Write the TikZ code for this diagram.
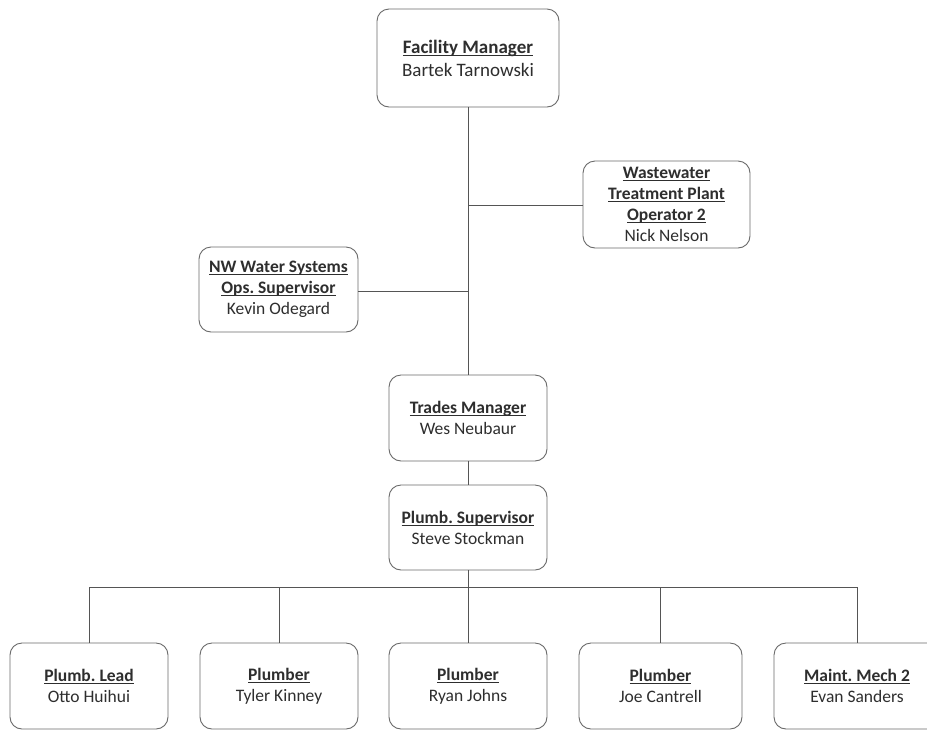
\documentclass[tikz,border=0pt]{standalone}
\usepackage{fontspec}
\setmainfont{Carlito}
\definecolor{txt}{HTML}{2E2E2E}
\definecolor{ln}{HTML}{555555}
\definecolor{bd}{HTML}{6A6A6A}
\newlength\ulwidth
\newcommand{\ttl}[1]{\settowidth\ulwidth{\textbf{#1}}\textbf{#1}\llap{\rule[-2.4pt]{\ulwidth}{0.8pt}}}
\begin{document}
\frenchspacing
\begin{tikzpicture}[x=1pt,y=-1pt,
  box/.style={draw=bd,line width=0.9pt,rounded corners=12pt,fill=white,text=txt,
    align=center,inner sep=0pt,font=\fontsize{17.5}{21}\selectfont},
  conn/.style={draw=ln,line width=0.9pt}]
\useasboundingbox[fill=white] (0,0) rectangle (927,729);
\node[box,minimum width=182pt,minimum height=98pt,font=\fontsize{19}{23}\selectfont] (fm) at (468,58) {\ttl{Facility Manager}\\Bartek Tarnowski};
\node[box,minimum width=167pt,minimum height=87pt] (ww) at (666.5,204.5) {\ttl{Wastewater}\\\ttl{Treatment Plant}\\\ttl{Operator 2}\\Nick Nelson};
\node[box,minimum width=159pt,minimum height=85pt] (nw) at (278.5,289.5) {\ttl{NW Water Systems}\\\ttl{Ops. Supervisor}\\Kevin Odegard};
\node[box,minimum width=158pt,minimum height=86pt] (tm) at (468,418) {\ttl{Trades Manager}\\Wes Neubaur};
\node[box,minimum width=158pt,minimum height=85pt] (ps) at (468,527.5) {\ttl{Plumb. Supervisor}\\Steve Stockman};
\node[box,minimum width=158pt,minimum height=86pt] (b1) at (89,686) {\ttl{Plumb. Lead}\\Otto Huihui};
\node[box,minimum width=158pt,minimum height=86pt] (b2) at (279,686) {\ttl{Plumber}\\Tyler Kinney};
\node[box,minimum width=158pt,minimum height=86pt] (b3) at (468,686) {\ttl{Plumber}\\Ryan Johns};
\node[box,minimum width=163pt,minimum height=86pt] (b4) at (660.5,686) {\ttl{Plumber}\\Joe Cantrell};
\node[box,minimum width=166pt,minimum height=86pt] (b5) at (857,686) {\ttl{Maint. Mech 2}\\Evan Sanders};
\coordinate (jw) at (468,205);
\coordinate (jn) at (468,291);
\coordinate (bus) at (468,587);
\draw[conn] (fm.south) -- (tm.north);
\draw[conn] (jw) -- (ww.west |- jw);
\draw[conn] (jn) -- (nw.east |- jn);
\draw[conn] (tm.south) -- (ps.north);
\draw[conn] (ps.south) -- (bus);
\draw[conn] (b1.north) -- (b1.north |- bus) -- (b5.north |- bus) -- (b5.north);
\draw[conn] (b2.north) -- (b2.north |- bus);
\draw[conn] (b3.north) -- (bus);
\draw[conn] (b4.north) -- (b4.north |- bus);
\end{tikzpicture}
\end{document}
